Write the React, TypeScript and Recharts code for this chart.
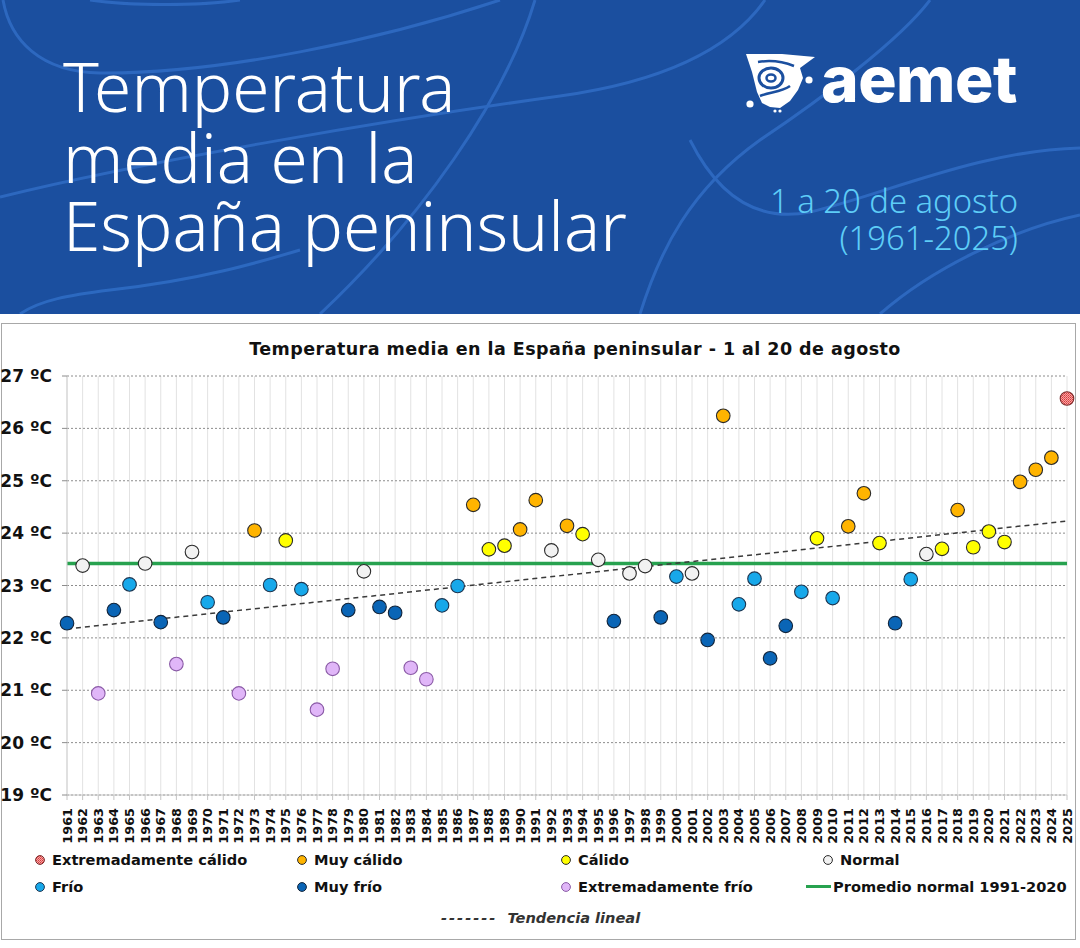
import React from 'react';
import { ComposedChart, Scatter, Line, XAxis, YAxis, CartesianGrid } from 'recharts';

// Years of the series (1 to 20 August of each year)
const years = [
  1961, 1962, 1963, 1964, 1965, 1966, 1967, 1968, 1969, 1970,
  1971, 1972, 1973, 1974, 1975, 1976, 1977, 1978, 1979, 1980,
  1981, 1982, 1983, 1984, 1985, 1986, 1987, 1988, 1989, 1990,
  1991, 1992, 1993, 1994, 1995, 1996, 1997, 1998, 1999, 2000,
  2001, 2002, 2003, 2004, 2005, 2006, 2007, 2008, 2009, 2010,
  2011, 2012, 2013, 2014, 2015, 2016, 2017, 2018, 2019, 2020,
  2021, 2022, 2023, 2024, 2025,
];

// Mean temperature (ºC) for each year
const temps = [
  22.28, 23.38, 20.94, 22.53, 23.02, 23.42, 22.30, 21.50, 23.64, 22.68,
  22.39, 20.94, 24.05, 23.01, 23.86, 22.93, 20.63, 21.41, 22.53, 23.27,
  22.59, 22.48, 21.43, 21.21, 22.62, 22.99, 24.54, 23.69, 23.76, 24.07,
  24.63, 23.67, 24.14, 23.98, 23.49, 22.32, 23.23, 23.37, 22.39, 23.17,
  23.23, 21.96, 26.24, 22.64, 23.13, 21.61, 22.23, 22.88, 23.90, 22.76,
  24.13, 24.76, 23.81, 22.28, 23.12, 23.60, 23.70, 24.44, 23.73, 24.03,
  23.83, 24.98, 25.21, 25.44, 26.57,
];

// Character of each year
const classes = [
  'MF', 'N', 'EF', 'MF', 'F', 'N', 'MF', 'EF', 'N', 'F',
  'MF', 'EF', 'MC', 'F', 'C', 'F', 'EF', 'EF', 'MF', 'N',
  'MF', 'MF', 'EF', 'EF', 'F', 'F', 'MC', 'C', 'C', 'MC',
  'MC', 'N', 'MC', 'C', 'N', 'MF', 'N', 'N', 'MF', 'F',
  'N', 'MF', 'MC', 'F', 'F', 'MF', 'MF', 'F', 'C', 'F',
  'MC', 'MC', 'C', 'MF', 'F', 'N', 'C', 'MC', 'C', 'C',
  'C', 'MC', 'MC', 'MC', 'EC',
];

// Reference period mean and linear trend end values (ºC)
const normalMean = 23.42;
const trendStart = 22.17;
const trendEnd = 24.23;

const yTicks = [19, 20, 21, 22, 23, 24, 25, 26, 27];

const legendRow1 = [
  { code: 'EC', label: 'Extremadamente cálido' },
  { code: 'MC', label: 'Muy cálido' },
  { code: 'C', label: 'Cálido' },
  { code: 'N', label: 'Normal' },
];
const legendRow2 = [
  { code: 'F', label: 'Frío' },
  { code: 'MF', label: 'Muy frío' },
  { code: 'EF', label: 'Extremadamente frío' },
];
const normalLabel = 'Promedio normal 1991-2020';
const trendLabel = 'Tendencia lineal';

const CLASS_STYLE: Record<string, { fill: string; stroke: string }> = {
  EC: { fill: 'url(#hatchHot)', stroke: '#7a2a2a' },
  MC: { fill: '#ffb400', stroke: '#2a2a2a' },
  C: { fill: '#ffff00', stroke: '#2a2a2a' },
  N: { fill: '#f2f2f2', stroke: '#2a2a2a' },
  F: { fill: '#17a8ea', stroke: '#1d3550' },
  MF: { fill: '#0a65b6', stroke: '#12243a' },
  EF: { fill: '#e0b6f8', stroke: '#8a5aa6' },
};

const FONT = '"DejaVu Sans", Verdana, sans-serif';

const points = years.map((year, i) => ({ year, temp: temps[i], cls: classes[i] }));
const meanData = [
  { year: years[0], temp: normalMean },
  { year: years[years.length - 1], temp: normalMean },
];
const trendData = [
  { year: years[0], temp: trendStart },
  { year: years[years.length - 1], temp: trendEnd },
];

const HatchDefs = () => (
  <defs>
    <pattern id="hatchHot" width="2" height="2" patternUnits="userSpaceOnUse">
      <rect width="2" height="2" fill="#f6a5a5" />
      <rect width="1" height="1" fill="#d9383a" />
      <rect x="1" y="1" width="1" height="1" fill="#e35a5a" />
    </pattern>
  </defs>
);

const Dot = (props: any) => {
  const { cx, cy, payload } = props;
  if (cx == null || cy == null) return null;
  const s = CLASS_STYLE[payload.cls];
  return (
    <g>
      <HatchDefs />
      <circle cx={cx} cy={cy} r={6.8} fill={s.fill} stroke={s.stroke} strokeWidth={1.1} />
    </g>
  );
};

const YearTick = (props: any) => {
  const { x, y, payload } = props;
  return (
    <text
      x={x}
      y={y}
      dy="0.36em"
      transform={`rotate(-90, ${x}, ${y})`}
      textAnchor="end"
      fontFamily={FONT}
      fontWeight="bold"
      fontSize={12.8}
      fill="#111"
    >
      {payload.value}
    </text>
  );
};

const LegendDot = ({ code, x, y }: { code: string; x: number; y: number }) => {
  const s = CLASS_STYLE[code];
  return (
    <svg style={{ position: 'absolute', left: x - 6, top: y - 6 }} width={12} height={12}>
      <HatchDefs />
      <circle cx={6} cy={6} r={4.4} fill={s.fill} stroke={s.stroke} strokeWidth={1} />
    </svg>
  );
};

const legendText: React.CSSProperties = {
  position: 'absolute',
  fontFamily: FONT,
  fontWeight: 'bold',
  fontSize: 14.6,
  color: '#111',
  whiteSpace: 'nowrap',
  lineHeight: '18px',
};

const colX = [40, 302, 566, 828];

const Header = () => (
  <svg width={1080} height={314} style={{ position: 'absolute', left: 0, top: 0 }}>
    <rect width={1080} height={314} fill="#1b4f9f" />
    <g fill="none" stroke="#2f6bc3" strokeWidth={3} opacity={0.9}>
      <path d="M 3 0 C 10 40, 40 72, 100 73 C 220 74, 380 40, 500 0" />
      <path d="M 90 0 C 130 6, 200 6, 240 0" />
      <path d="M 0 197 C 150 160, 400 118, 560 96 C 660 82, 730 50, 765 0" />
      <path d="M 535 0 C 505 100, 420 220, 320 314" />
      <path d="M 640 314 C 660 250, 690 190, 760 140 C 820 100, 900 40, 930 0" />
      <path d="M 690 140 C 720 200, 760 222, 810 212 C 880 196, 980 150, 1080 148" />
      <path d="M 20 314 C 40 300, 70 295, 110 290 C 200 280, 260 262, 300 250" />
      <path d="M 880 314 C 930 270, 1010 230, 1080 215" />
    </g>
    <text fill="#ffffff" fontFamily='"Noto Sans", sans-serif' fontWeight={350} fontSize={67.5}>
      <tspan x={63} y={112}>Temperatura</tspan>
      <tspan x={63} y={183}>media en la</tspan>
      <tspan x={63} y={251}>España peninsular</tspan>
    </text>
    <text fill="#5ecdf7" fontFamily='"Noto Sans", sans-serif' fontWeight={350} fontSize={32.8} textAnchor="end">
      <tspan x={1018} y={213}>1 a 20 de agosto</tspan>
      <tspan x={1018} y={250}>(1961-2025)</tspan>
    </text>
    {/* aemet logo */}
    <g>
      <path
        d="M 746 54 L 782 54 L 815 57 L 800 68 L 803 78 L 798 90 L 790 101 L 780 108 L 770 107 L 762 103 L 757 92 L 752 72 Z"
        fill="#ffffff"
      />
      <ellipse cx={771} cy={78} rx={12} ry={10} fill="none" stroke="#1b4f9f" strokeWidth={3} />
      <ellipse cx={771} cy={78} rx={4.5} ry={3.5} fill="none" stroke="#1b4f9f" strokeWidth={2.5} />
      <path d="M 760 96 C 770 92, 782 92, 790 86" fill="none" stroke="#1b4f9f" strokeWidth={2.5} />
      <path d="M 758 62 C 770 60, 784 62, 794 66" fill="none" stroke="#1b4f9f" strokeWidth={2.5} />
      <circle cx={809} cy={80} r={3.6} fill="#ffffff" />
      <circle cx={750} cy={104} r={3.6} fill="#ffffff" />
      <circle cx={775} cy={111} r={1.6} fill="#ffffff" />
      <circle cx={780} cy={111} r={1.6} fill="#ffffff" />
      <text x={821} y={102} fill="#ffffff" fontFamily="Inter, sans-serif" fontWeight={800} fontSize={64} letterSpacing={-0.5}>
        aemet
      </text>
    </g>
  </svg>
);

export default function App() {
  return (
    <div style={{ position: 'absolute', left: 0, top: 0, width: 1080, height: 948, background: '#ffffff', overflow: 'hidden' }}>
      <Header />
      <div
        style={{
          position: 'absolute',
          left: 1,
          top: 323,
          width: 1073,
          height: 615,
          border: '1.5px solid #a8a8a8',
          background: '#ffffff',
        }}
      />
      <div
        style={{
          position: 'absolute',
          left: 75,
          top: 339,
          width: 1000,
          textAlign: 'center',
          fontFamily: FONT,
          fontWeight: 'bold',
          fontSize: 17.5,
          letterSpacing: 0.45,
          color: '#111',
          whiteSpace: 'nowrap',
        }}
      >
        Temperatura media en la España peninsular - 1 al 20 de agosto
      </div>
      <div style={{ position: 'absolute', left: 0, top: 323 }}>
        <ComposedChart width={1076} height={617} margin={{ top: 53, right: 9, bottom: 95, left: 0 }}>
          <CartesianGrid horizontal={false} stroke="#e2e2e2" strokeWidth={1} />
          <CartesianGrid vertical={false} stroke="#8c8c8c" strokeDasharray="2 2" strokeWidth={1} />
          <XAxis
            type="number"
            dataKey="year"
            domain={[years[0], years[years.length - 1]]}
            ticks={years}
            interval={0}
            tick={<YearTick />}
            tickSize={5}
            tickMargin={8}
            height={50}
            axisLine={{ stroke: '#c4c4c4' }}
            tickLine={{ stroke: '#c4c4c4' }}
          />
          <YAxis
            type="number"
            dataKey="temp"
            domain={[19, 27]}
            ticks={yTicks}
            interval={0}
            width={67}
            tickSize={5}
            tickMargin={10}
            tickFormatter={(v: number) => `${v} ºC`}
            tick={{ fontFamily: FONT, fontWeight: 'bold', fontSize: 17, fill: '#111' }}
            axisLine={{ stroke: '#cfcfcf' }}
            tickLine={{ stroke: '#8c8c8c' }}
          />
          <Line
            data={meanData}
            dataKey="temp"
            type="linear"
            stroke="#27a24f"
            strokeWidth={3.5}
            dot={false}
            activeDot={false}
            isAnimationActive={false}
          />
          <Scatter data={points} dataKey="temp" shape={<Dot />} isAnimationActive={false} />
          <Line
            data={trendData}
            dataKey="temp"
            type="linear"
            stroke="#3a3a3a"
            strokeWidth={1.5}
            strokeDasharray="5 4"
            dot={false}
            activeDot={false}
            isAnimationActive={false}
          />
        </ComposedChart>
      </div>

      {legendRow1.map((item, i) => (
        <React.Fragment key={item.code}>
          <LegendDot code={item.code} x={colX[i]} y={860} />
          <div style={{ ...legendText, left: colX[i] + 12, top: 851 }}>{item.label}</div>
        </React.Fragment>
      ))}
      {legendRow2.map((item, i) => (
        <React.Fragment key={item.code}>
          <LegendDot code={item.code} x={colX[i]} y={887} />
          <div style={{ ...legendText, left: colX[i] + 12, top: 878 }}>{item.label}</div>
        </React.Fragment>
      ))}
      <div style={{ position: 'absolute', left: 806, top: 885, width: 25, height: 3, background: '#27a24f' }} />
      <div style={{ ...legendText, left: 833, top: 878 }}>{normalLabel}</div>
      <div style={{ ...legendText, left: 441, top: 909, fontStyle: 'italic', color: '#333' }}>
        <span style={{ letterSpacing: 2 }}>-------</span>
        <span style={{ marginLeft: 10 }}>{trendLabel}</span>
      </div>
    </div>
  );
}
